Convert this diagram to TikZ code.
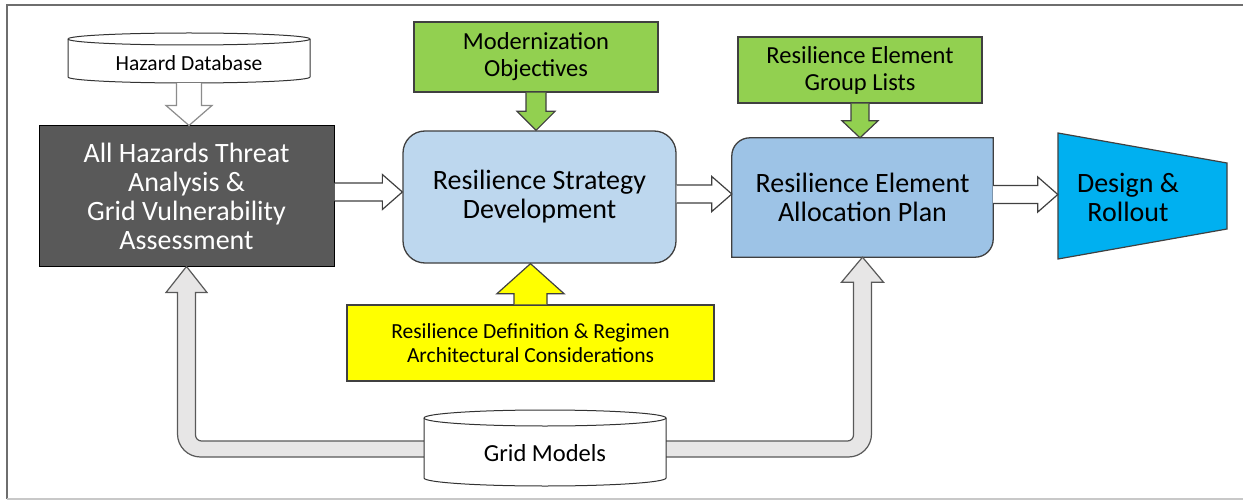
\documentclass[tikz,border=0pt]{standalone}
\usepackage{fontspec}
\setmainfont{Carlito}
\usetikzlibrary{calc}
\definecolor{darkbox}{HTML}{595959}
\definecolor{bluea}{HTML}{BDD7EE}
\definecolor{blueb}{HTML}{9DC3E6}
\definecolor{greenbox}{HTML}{92D050}
\definecolor{yellowbox}{HTML}{FFFF00}
\definecolor{cyanbox}{HTML}{00B0F0}
\definecolor{arrowgray}{HTML}{E7E6E6}
\definecolor{edge}{HTML}{404040}
\definecolor{framegray}{HTML}{6E6E6E}
\definecolor{framelight}{HTML}{C8C8C8}
\newcommand\rblockarrow[4]{%
  \draw[#1] let \p1=(#2), \p2=(#3) in
   (\x1,\y1+#4+9pt) -- (\x2-20pt,\y1+#4+9pt) -- (\x2-20pt,\y1+#4+17.5pt) -- (\x2,\y1+#4)
   -- (\x2-20pt,\y1+#4-17.5pt) -- (\x2-20pt,\y1+#4-9pt) -- (\x1,\y1+#4-9pt);}
\newcommand\dblockarrow[6]{%
  \draw[#1] let \p1=(#2), \p2=(#3) in
   (\x1-#4,\y1) -- (\x1-#4,\y2+#6) -- (\x1-#5,\y2+#6) -- (\x1,\y2)
   -- (\x1+#5,\y2+#6) -- (\x1+#4,\y2+#6) -- (\x1+#4,\y1);}
\newcommand\ublockarrow[6]{%
  \draw[#1] let \p1=(#2), \p2=(#3) in
   (\x1-#4,\y1) -- (\x1-#4,\y2-#6) -- (\x1-#5,\y2-#6) -- (\x1,\y2)
   -- (\x1+#5,\y2-#6) -- (\x1+#4,\y2-#6) -- (\x1+#4,\y1);}
\begin{document}
\begin{tikzpicture}[x=1pt,y=-1pt,
  bigtxt/.style={font={\fontsize{28}{29}\selectfont}, align=center},
  midtxt/.style={font={\fontsize{24.5}{27}\selectfont}, align=center},
  smalltxt/.style={font={\fontsize{21.5}{24}\selectfont}, align=center},
  boxedge/.style={draw=edge, line width=1.3pt},
  ghost/.style={inner sep=0pt, draw=none, fill=none},
  whitearrow/.style={fill=white, draw=edge, line width=1.2pt, line join=miter},
  hazardarrow/.style={fill=white, draw=black!45, line width=1.2pt, line join=miter},
  greenarrow/.style={fill=greenbox, draw=edge, line width=1.2pt, line join=miter},
  yellowarrow/.style={fill=yellowbox, draw=edge, line width=1.2pt, line join=miter},
  grayarrow/.style={fill=arrowgray, draw=darkbox, line width=1.2pt, line join=miter},
  cylst/.style={fill=white, draw=black!80, line width=1pt}
]
\useasboundingbox (0,0) rectangle (1243,500);
\fill[white] (0,0) rectangle (1243,500);
% frame
\draw[framegray, line width=2pt] (7,499) -- (7,5) -- (1243,5);
\draw[framelight, line width=1.5pt] (7,499) -- (1243,499);

% nodes
\node[bigtxt, boxedge, draw=black, line width=1pt, fill=darkbox, text=white,
      minimum width=295pt, minimum height=140pt] (dark) at (186.5,196)
      {All Hazards Threat\\Analysis \&\\Grid Vulnerability\\Assessment};
\node[bigtxt, boxedge, fill=bluea, rounded corners=22pt,
      minimum width=273pt, minimum height=132pt] (rsd) at (539.5,197)
      {Resilience Strategy\\Development};
\node[midtxt, boxedge, fill=greenbox, minimum width=244pt, minimum height=70pt]
      (mod) at (536,57) {Modernization\\Objectives};
\node[ghost, minimum width=261pt, minimum height=119pt] (alloc) at (862.5,197.5) {};
\draw[boxedge, fill=blueb] let \p1=(alloc.north west), \p2=(alloc.south east) in
  (\x1,\y1-18pt) arc[start angle=180, end angle=90, radius=18pt] -- (\x2,\y1)
  -- (\x2,\y2+18pt) arc[start angle=0, end angle=-90, radius=18pt] -- (\x1,\y2) -- cycle;
\node[bigtxt] (alloclbl) at (alloc.center) {Resilience Element\\Allocation Plan};
\node[midtxt, boxedge, fill=greenbox, minimum width=244pt, minimum height=66pt]
      (grp) at (860,70) {Resilience Element\\Group Lists};
\node[smalltxt, boxedge, fill=yellowbox, minimum width=367pt, minimum height=76pt]
      (yel) at (530.5,343) {Resilience Definition \& Regimen\\Architectural Considerations};
% design trapezoid
\node[ghost, minimum width=169pt, minimum height=126pt] (design) at (1142.5,196) {};
\draw[fill=cyanbox, draw=edge, line width=1.2pt]
  (1058,133) -- (1227,163) -- (1227,229) -- (1058,259) -- cycle;
\node[bigtxt] (designlbl) at (1128,197) {Design \&\\Rollout};

% hazard database cylinder
\node[ghost, minimum width=242pt, minimum height=50pt] (hdb) at (189,58) {};
\draw[cylst] (68,39) -- (68,77) arc[start angle=180, end angle=360, x radius=121pt, y radius=6pt]
  -- (310,39) arc[start angle=0, end angle=180, x radius=121pt, y radius=6pt] -- cycle;
\draw[cylst] (68,39) arc[start angle=180, end angle=360, x radius=121pt, y radius=6pt];
\node[smalltxt] (hdblbl) at (189,63) {Hazard Database};

% grid models (geometry node)
\node[ghost, minimum width=242pt, minimum height=76pt] (grid) at (545,449) {};

% block arrows
\dblockarrow{hazardarrow}{hdb.south}{dark.north}{12.5pt}{23pt}{20pt}
\rblockarrow{whitearrow}{dark.east}{rsd.west}{4pt}
\rblockarrow{whitearrow}{rsd.east}{alloc.west}{3pt}
\rblockarrow{whitearrow}{alloc.east}{design.west}{3pt}
\dblockarrow{greenarrow}{mod.south}{rsd.north}{10pt}{19pt}{19pt}
\dblockarrow{greenarrow}{grp.south}{alloc.north}{9pt}{18pt}{17pt}
\ublockarrow{yellowarrow}{yel.north}{rsd.south}{16.5pt}{33.5pt}{30pt}

% grid -> dark
\draw[grayarrow] let \p1=(dark.south), \p2=(grid.west) in
  (\x2,\y2+8pt) -- (\x1+15pt,\y2+8pt) arc[start angle=270, end angle=180, radius=6pt]
  -- (\x1+9pt,\y1-26pt) -- (\x1+20.5pt,\y1-26pt) -- (\x1,\y1) -- (\x1-20.5pt,\y1-26pt)
  -- (\x1-9pt,\y1-26pt) -- (\x1-9pt,\y2+15pt) arc[start angle=180, end angle=270, radius=23pt]
  -- (\x2,\y2-8pt);
% grid -> alloc
\draw[grayarrow] let \p1=(alloc.south), \p2=(grid.east) in
  (\x2,\y2+8pt) -- (\x1-15pt,\y2+8pt) arc[start angle=270, end angle=360, radius=6pt]
  -- (\x1-9pt,\y1-25pt) -- (\x1-21pt,\y1-25pt) -- (\x1,\y1) -- (\x1+21pt,\y1-25pt)
  -- (\x1+9pt,\y1-25pt) -- (\x1+9pt,\y2+15pt) arc[start angle=0, end angle=-90, radius=23pt]
  -- (\x2,\y2-8pt);

% grid models cylinder
\draw[cylst] (424,418) -- (424,478) arc[start angle=180, end angle=360, x radius=121pt, y radius=8pt]
  -- (666,418) arc[start angle=0, end angle=180, x radius=121pt, y radius=8pt] -- cycle;
\draw[cylst] (424,418) arc[start angle=180, end angle=360, x radius=121pt, y radius=8pt];
\node[midtxt] (gridlbl) at (545,453) {Grid Models};
\end{tikzpicture}
\end{document}
